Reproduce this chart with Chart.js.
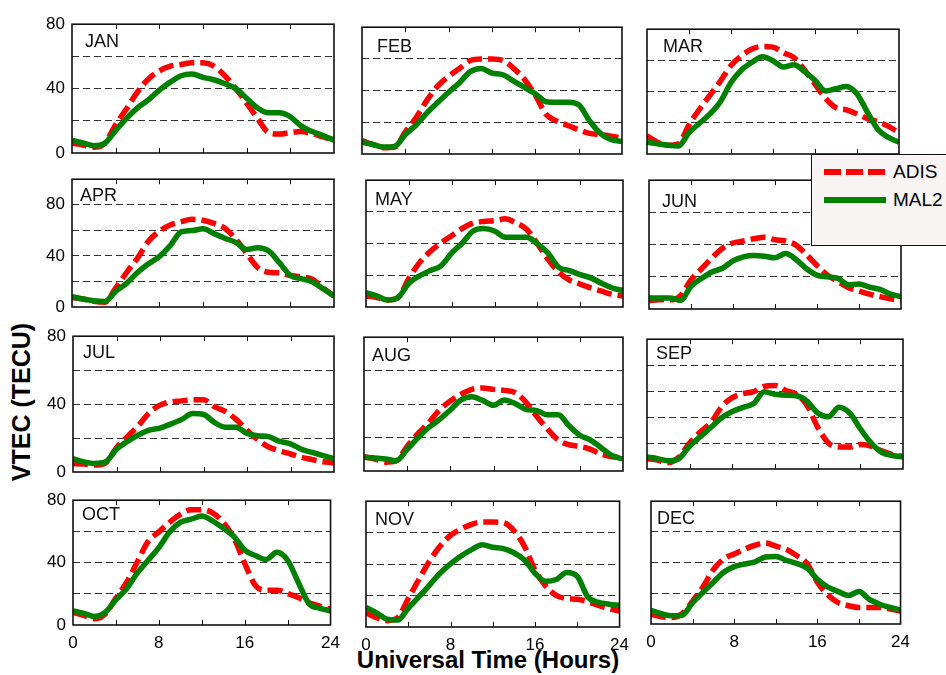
<!DOCTYPE html>
<html>
<head>
<meta charset="utf-8">
<script src="https://cdn.jsdelivr.net/npm/chart.js@4.4.0/dist/chart.umd.min.js"></script>
<style>
html, body { margin: 0; padding: 0; background: #fff; }
body { width: 946px; height: 675px; position: relative; overflow: hidden; font-family: "Liberation Sans", Arial, sans-serif; }
canvas { position: absolute; }
.ytitle { position: absolute; left: 21px; top: 402px; transform: translate(-50%, -50%) rotate(-90deg); font-weight: bold; font-size: 25px; white-space: nowrap; }
.xtitle { position: absolute; left: 488px; top: 660px; transform: translate(-50%, -50%); font-weight: bold; font-size: 24px; white-space: nowrap; }
#legend { position: absolute; left: 811px; top: 154px; width: 160px; height: 90px; border: 1.5px solid #111; background: #f8f4f4; z-index: 5; }
#legend svg { position: absolute; left: 0; top: 0; }
#legend span { position: absolute; left: 81px; font-size: 19px; transform: translateY(-50%); }
</style>
</head>
<body>
<div class="ytitle">VTEC (TECU)</div>
<div class="xtitle">Universal Time (Hours)</div>
<div id="legend">
  <svg width="80" height="90">
    <line x1="12" y1="17" x2="74" y2="17" stroke="#ff0000" stroke-width="6" stroke-dasharray="17,5"/>
    <line x1="12" y1="45" x2="74" y2="45" stroke="#008000" stroke-width="6"/>
  </svg>
  <span style="top:17px">ADIS</span>
  <span style="top:45px">MAL2</span>
</div>
<script>
// hours of the day (UT)
const hours = [0,1,2,3,4,5,6,7,8,9,10,11,12,13,14,15,16,17,18,19,20,21,22,23,24];
const months = ['JAN','FEB','MAR','APR','MAY','JUN','JUL','AUG','SEP','OCT','NOV','DEC'];
const yMax = [80,80,80,100,80,80,80,80,100,80,80,80];

// ADIS (red dashed) and MAL2 (green) VTEC, TECU
const janADIS = [6,5,3.5,6,17.6,27.5,38,46,51,54,55,56,56,54,48,40,31,21.5,12.7,11.8,12.7,13.3,12,10,8];
const janMAL2 = [7.8,6.3,4.5,6,14,21.5,28,33,39,44,48,49,47,45.5,43,40,34,28,25,25,22.5,16.7,13.3,10.8,8];
const febADIS = [8.4,6,4,4.4,14,23,34,43,49,54,59,60,60,59,54,47,37,25,20.7,18,15.3,13,12.3,11.3,10];
const febMAL2 = [7.4,6,4.4,4.8,12.3,18.3,26,32.6,39,45,52,54,51,50,46,42,38,33,32.6,32.6,31,21,13,9,8];
const marADIS = [11.6,7.6,5.6,6.6,18.7,28.7,37.8,46.8,56.8,62.9,67.3,68.9,68.5,64.9,61.8,53.8,44.8,35.7,29.7,28.3,25.7,22.7,20.7,17.7,13.7];
const marMAL2 = [7.6,6.6,5.6,5.2,13.7,19.7,25.7,33.7,45.8,53.8,58.8,62.4,59.8,55.8,57.2,52.8,47.2,40.4,41.8,43.2,38.4,26.7,15.7,10.6,7.6];
const aprADIS = [7.4,6.2,4.4,3.7,14.8,27,38.3,51.4,59.3,64.2,66.7,68.6,67.9,65.4,61.7,53.1,42,30.9,27.2,26.7,24.7,23.5,21.7,14.8,8.6];
const aprMAL2 = [8.1,6.2,4.9,4.4,12.3,18.5,27,33.8,39.5,48,58.8,59.8,61.2,57.5,53.8,50.6,45,46.4,44,34.6,24.7,22.2,19.8,14.3,8.6];
const mayADIS = [7,6,4.4,6,18,28,35,40.4,45,49.6,53,54,54.4,55.6,53,49,40,30,22,17,14.4,12,10,8,7];
const mayMAL2 = [9,7,4.4,6,15,19.6,23,26,34,40.4,48,49.6,48,44,44,44,40,34,25,23,20.4,18.4,15,12,10.4];
const junADIS = [5.3,5.7,5.7,8.3,18,25,31.8,37.7,41,42.2,43.6,44.6,43,42.2,39.7,33.8,27,21,17,13.2,11.2,9.2,7.7,6.3,5.3];
const junMAL2 = [6.9,6.9,6.9,5.3,14.1,19,23,25.3,29.9,32.4,33.2,32.8,31.8,34.4,30.8,25,21,20,19,15,15.5,13.6,12.2,9.2,7.7];
const julADIS = [5,4.7,4.1,5.4,14.3,20.8,27.3,34.8,39.4,41.3,41.9,42.6,42.6,38.5,35.7,31,24.6,19,14.7,12.5,10.6,8.7,7.3,6,5.4];
const julMAL2 = [7.8,6,5,6,13.4,18,21.8,24.6,25.9,28.3,31,34.4,33.9,29.2,26.4,26.4,22.7,21.4,20.8,18,16.6,13.4,11.5,9.7,7.8];
const augADIS = [8.5,7.2,5.3,6.2,14.7,22.3,28.9,36.5,41.8,45.9,48.8,49.7,48.8,48.2,46.9,41.2,32.7,25.1,18.5,15.7,14.7,12.9,10,8.5,8.1];
const augMAL2 = [8.1,7.8,7.2,6.2,12.9,19.8,26,30.8,36.5,42.5,44.4,42.2,39.3,42.5,40.3,36.9,36.1,33.6,33.6,27,21.4,18.5,13.8,9.1,7.2];
const sepADIS = [8,6.8,4.8,9.2,20.1,28.6,35.8,48,55,58,59.6,63.7,64.4,60.5,57.6,49.2,32.2,20.1,16.9,16.9,18.9,17.7,14,11.1,9.7];
const sepMAL2 = [9.2,8,6.3,8,17.7,24.9,32.2,39.5,44.3,47.5,50.4,59.6,57.6,56.9,56.4,52.3,43.1,40.2,47.5,43.1,31,20.1,12.8,10.4,9.2];
const octADIS = [8.1,6.1,4,7.1,17.2,27.3,40.5,53.6,59.7,65.8,70.9,73.9,73.9,71.9,65.8,55.7,39.5,25.3,22.3,22.3,20.2,17.6,14.2,12.1,10.1];
const octMAL2 = [9.1,7.5,5.5,8.1,16.2,23.3,33.4,41.5,49.6,59.7,65.8,67.8,69.8,66.8,62.1,56.7,48,44.5,42,46.6,41.5,27.3,13.6,10.7,9.1];
const novADIS = [9,6,4,6,18.1,30.2,41.8,51.3,58.3,62.3,65.3,66.7,66.7,66.3,61.3,51.3,36.2,26.1,20.1,18.1,17.7,16.1,13.7,11.7,10.1];
const novMAL2 = [12.5,9,5,4.4,12,19.1,26.5,34.2,40.2,45.2,49.2,52.3,50.7,49.8,47.2,42.6,34.2,29.1,30.2,34.6,32.2,19.1,15.7,14.5,13.7];
const decADIS = [6.3,4.7,4.3,6.7,14.9,24.1,35.4,42.5,45.6,48.7,51.3,52.8,50.7,48.7,44.6,39.5,27.2,19,13.9,11.9,10.8,10.8,10.8,9.8,8.4];
const decMAL2 = [8.8,6.7,5.3,5.7,13.9,20.7,27.2,33.7,37.4,39.1,40.5,43.6,44,41.5,39.5,36.4,29.2,24.1,21.1,18.6,21.1,16,12.9,10.8,9.2];

const adis = [janADIS,febADIS,marADIS,aprADIS,mayADIS,junADIS,julADIS,augADIS,sepADIS,octADIS,novADIS,decADIS];
const mal2 = [janMAL2,febMAL2,marMAL2,aprMAL2,mayMAL2,junMAL2,julMAL2,augMAL2,sepMAL2,octMAL2,novMAL2,decMAL2];

// plot area of each panel: left, right, top, bottom, month label offset
const panels = [
  [72,334,17,153,13,18], [362,622,20,154,15,20], [647,899,22,154,16,18],
  [72,334,172,307,8,17], [366,623,173,307,9,20], [649,901,173,309,13,22],
  [73,334,329,472,10,17], [364,623,330,471,8,19], [647,903,332,469,9,15],
  [73,334,493,625,9,15], [366,623,494,627,9,19], [651,904,494,624,6,18]
];

const FONT = '"Liberation Sans", Arial, sans-serif';
const PADL = 40, PADT = 10, PADR = 14, PADB = 26;

const frame = {
  id: 'frame',
  afterDraw(chart, args, opts) {
    const ctx = chart.ctx, a = chart.chartArea, x = chart.scales.x;
    ctx.save();
    ctx.setLineDash([]);
    ctx.strokeStyle = '#111';
    ctx.lineWidth = 1;
    x.ticks.forEach(t => {
      if (t.value <= 0 || t.value >= 24) return;
      const px = Math.round(x.getPixelForValue(t.value)) + 0.5;
      ctx.beginPath();
      ctx.moveTo(px, a.bottom); ctx.lineTo(px, a.bottom - 5);
      ctx.moveTo(px, a.top); ctx.lineTo(px, a.top + 5);
      ctx.stroke();
    });
    ctx.lineWidth = 1.6;
    ctx.strokeRect(a.left, a.top, a.right - a.left, a.bottom - a.top);
    ctx.fillStyle = '#111';
    ctx.font = '18px ' + FONT;
    ctx.textBaseline = 'middle';
    ctx.fillText(opts.month, a.left + opts.dx, a.top + opts.dy);
    ctx.restore();
  }
};

months.forEach((m, i) => {
  const [L, R, T, B, dx, dy] = panels[i];
  const col = i % 3, row = Math.floor(i / 3);
  const cv = document.createElement('canvas');
  cv.width = R - L + PADL + PADR;
  cv.height = B - T + PADT + PADB;
  cv.style.left = (L - PADL) + 'px';
  cv.style.top = (T - PADT) + 'px';
  document.body.appendChild(cv);

  new Chart(cv, {
    type: 'line',
    data: {
      datasets: [
        {
          label: 'ADIS',
          data: hours.map((h, k) => ({ x: h, y: adis[i][k] })),
          borderColor: '#ff0000',
          borderWidth: 5.5,
          borderDash: [15, 6],
          order: 1
        },
        {
          label: 'MAL2',
          data: hours.map((h, k) => ({ x: h, y: mal2[i][k] })),
          borderColor: '#008000',
          borderWidth: 5.5,
          order: 0
        }
      ]
    },
    options: {
      responsive: false,
      animation: false,
      devicePixelRatio: 1,
      layout: { padding: { left: 0, top: PADT, right: PADR, bottom: 0 } },
      elements: { point: { radius: 0 }, line: { cubicInterpolationMode: 'monotone', fill: false, borderCapStyle: 'butt' } },
      plugins: {
        legend: { display: false },
        tooltip: { enabled: false },
        frame: { month: m, dx: dx, dy: dy }
      },
      scales: {
        x: {
          type: 'linear', min: 0, max: 24,
          ticks: {
            stepSize: 4, autoSkip: false, maxRotation: 0, padding: 8,
            color: '#000', font: { size: 17, family: FONT },
            callback: v => (row === 3 && v % 8 === 0) ? String(v) : ''
          },
          grid: { display: false, drawTicks: false },
          border: { display: false },
          afterFit: s => { s.height = PADB; }
        },
        y: {
          min: 0, max: yMax[i],
          ticks: {
            stepSize: 20, padding: 7,
            color: '#000', font: { size: 17, family: FONT },
            callback: v => (col === 0 && v % 40 === 0) ? String(v) : ''
          },
          grid: {
            drawTicks: false, lineWidth: 1,
            color: c => (c.tick && c.tick.value > 0 && c.tick.value < yMax[i]) ? '#333' : 'rgba(0,0,0,0)'
          },
          border: { display: false, dash: [7, 4] },
          afterFit: s => { s.width = PADL; }
        }
      }
    },
    plugins: [frame]
  });
});
</script>
</body>
</html>
